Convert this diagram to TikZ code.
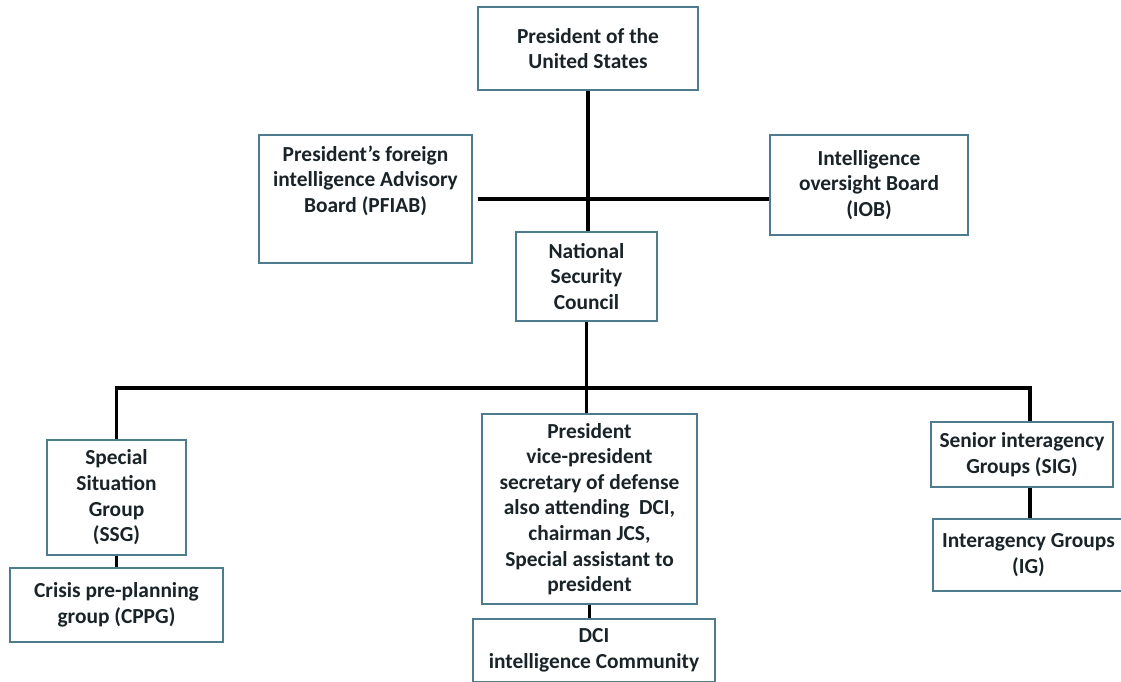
\documentclass[tikz,border=0pt]{standalone}
\usepackage{fontspec}
\setmainfont{Carlito}
\usepackage{xcolor}
\definecolor{boxblue}{RGB}{78,124,142}
\definecolor{ink}{RGB}{25,35,40}
\usetikzlibrary{calc}
\tikzset{
  org/.style={rectangle, draw=boxblue, line width=1.6pt, text=ink, align=center, inner sep=2pt,
    font=\fontsize{21.4}{25.6}\selectfont\bfseries},
  line/.style={draw, line width=3.2pt},
}

\begin{document}
\begin{tikzpicture}[x=1pt,y=-1pt]
    \useasboundingbox (0,0) rectangle (1121,682);

    \node[org, minimum width=220pt, minimum height=83pt] (pres) at (588,48.5) {President of the\\United States};
    \node[org, minimum width=213pt, minimum height=128pt] (pfiab) at (365.5,199) {President's foreign\\intelligence Advisory\\Board (PFIAB)\\[14pt]\mbox{}};
    \node[org, minimum width=198pt, minimum height=100pt] (iob) at (869,185) {Intelligence\\oversight Board\\(IOB)};
    \node[org, minimum width=141pt, minimum height=89pt] (nsc) at (586.5,276.5) {National\\Security\\Council};

    \node[org, minimum width=139pt, minimum height=115pt] (ssg) at (116.5,497.5) {Special\\Situation\\Group\\(SSG)};
    \node[org, minimum width=213pt, minimum height=74pt] (cppg) at (116.5,605) {Crisis pre-planning\\group (CPPG)};

    \node[org, minimum width=215pt, minimum height=190pt] (members) at (589.5,509) {President\\vice-president\\secretary of defense\\also attending\ \ DCI,\\chairman JCS,\\Special assistant to\\president};
    \node[org, minimum width=242pt, minimum height=63pt] (dci) at (594,650.5) {DCI\\intelligence Community};

    \node[org, minimum width=182pt, minimum height=65pt] (sig) at (1022,454.5) {Senior interagency\\Groups (SIG)};
    \node[org, minimum width=191pt, minimum height=72pt] (ig) at (1028.5,555) {Interagency Groups\\(IG)};

    \coordinate (busr) at (1030,388);

    \begin{scope}[every path/.style=line]
      \path (pres.south) -- (pres.south |- nsc.north);
      \path ([xshift=5pt]pfiab.east) -- (pfiab.east -| iob.west);
      \path (nsc.south) -- (nsc.south |- members.north);

      \path (ssg.north) |- (busr) -- (busr |- sig.north);
      \path (ssg.south) -- (cppg.north);
      \path (members.south) -- (members.south |- dci.north);
      \path (busr |- sig.south) -- (busr |- ig.north);
    \end{scope}

\end{tikzpicture}
\end{document}
